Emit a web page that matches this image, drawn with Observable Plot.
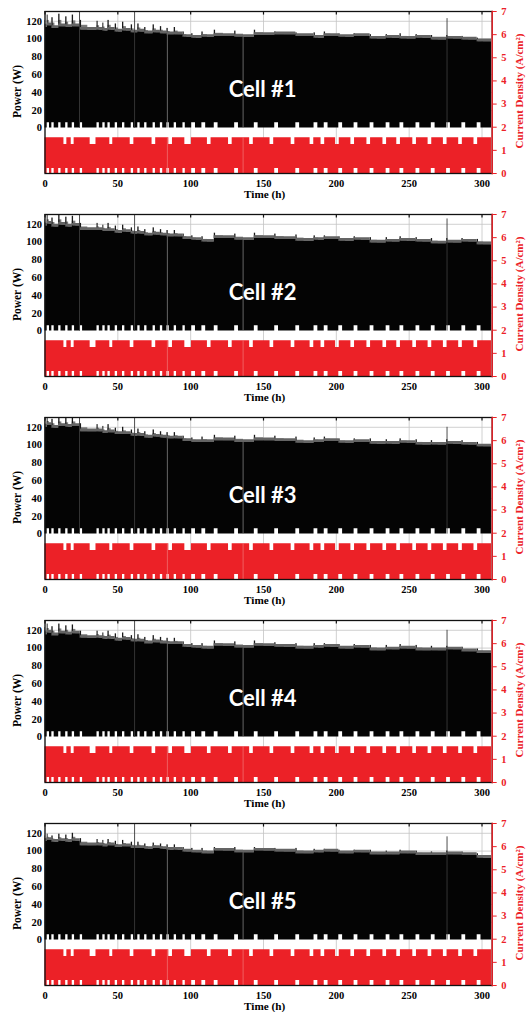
<!DOCTYPE html>
<html>
<head>
<meta charset="utf-8">
<script src="https://cdn.jsdelivr.net/npm/d3@7"></script>
<script src="https://cdn.jsdelivr.net/npm/@observablehq/plot@0.6"></script>
<style>
  html, body { margin: 0; padding: 0; background: #fff; }
  #chart svg { display: block; }
</style>
</head>
<body>
<div id="chart"></div>
<script>
// Five-cell load-cycling durability test: stack power (W, left) and
// current density (A/cm², right, red) over 307 h.

const cellNames = ["Cell #1", "Cell #2", "Cell #3", "Cell #4", "Cell #5"];
const xTicks = [0, 50, 100, 150, 200, 250, 300];
const powerTicks = [0, 20, 40, 60, 80, 100, 120];
const densityTicks = [0, 1, 2, 3, 4, 5, 6, 7];
const endHour = 306.5;

// Rest periods (current never drops to zero): start / end hours
const restStart = [1.5, 4.7, 9.4, 14.2, 18.7, 24.2, 35.7, 39.7, 43.2, 48.2, 53.2, 59.2, 63.7, 68.4, 74.2, 79.2, 83.7, 88.7, 94.7, 100.7, 107.7, 116.2, 130.2, 143.7, 157.7, 172.2, 184.7, 191.7, 201.7, 212.2, 223.2, 234.2, 243.7, 254.7, 265.2, 275.7, 286.2, 296.7];
const restEnd   = [3.1, 6.3, 11.0, 15.8, 20.3, 25.8, 37.3, 41.3, 44.8, 49.8, 54.8, 60.8, 65.3, 70.0, 75.8, 80.8, 85.3, 90.3, 96.3, 103.3, 110.3, 118.8, 132.8, 146.3, 160.3, 174.8, 187.3, 194.3, 204.3, 214.8, 225.8, 236.8, 246.3, 257.3, 267.8, 278.3, 288.8, 299.3];

// Reduced peak-current periods: start / end hours
const dipStart = [13, 18, 31, 44.5, 58.5, 73.5, 85, 96, 111.5, 126, 140.5, 154.5, 169, 182, 189.5, 199.5, 210, 221, 232, 241.5, 252.5, 263, 273.5, 284, 294.5];
const dipEnd   = [15, 20, 35, 46.5, 61, 76, 87.5, 100.5, 114, 128.5, 143, 157, 171.5, 184.5, 192, 202, 212.5, 223.5, 234.5, 244, 255, 265.5, 276, 286.5, 297];

// Current-density levels (A/cm²) and rest-period power floor (W)
const densityHigh = 1.55;
const densityDip = 1.25;
const densityRestMin = 0.22;
const powerRestMin = 6;

// Data interruptions (h)
const gapHours = [84, 136];

// Each cycling block begins at a rest period
const blockStart = [0, ...restStart];

// Sustained power plateau per block (W)
const level1 = [113,115,112,114,113,114,110,110,109,110,108,109,107,108,106,107,106,105,105,102,101,102,103,102,104,105,103,101,103,102,103,100,101,100,101,99,100,99,97];
const level2 = [118,120,117,119,117,118,113,113,112,112,110,111,109,109,107,108,107,106,106,103,102,100,104,102,104,103,101,102,103,101,102,99,100,101,100,98,99,100,97];
const level3 = [120,122,119,121,120,121,115,115,113,114,112,112,110,110,108,109,108,107,107,104,103,103,105,103,105,104,102,103,104,102,103,101,101,102,100,100,101,100,98];
const level4 = [115,117,114,116,115,116,111,111,110,110,108,109,107,107,105,106,105,104,104,101,100,99,102,100,102,101,99,100,101,99,100,97,98,99,97,97,98,96,94];
const level5 = [111,112,110,111,110,111,106,106,105,106,104,105,103,103,102,103,102,101,101,99,98,97,100,98,100,99,97,98,99,97,98,96,96,97,95,95,96,95,92];

// Recovered peak power right after each rest (W)
const peak1 = [121,127,124,128,125,127,121,120,118,121,117,119,116,117,113,116,114,112,113,108,106,108,110,109,110,108,107,107,108,106,106,105,105,106,105,104,104,103,101];
const peak2 = [126,130,127,131,128,129,121,121,119,121,118,119,116,117,114,116,114,113,113,109,107,106,110,109,110,109,108,107,107,106,106,105,105,106,105,104,104,104,103];
const peak3 = [128,131,129,131,130,131,124,123,121,123,119,120,117,118,115,117,115,114,114,110,108,109,111,110,111,110,109,108,109,107,107,107,106,107,106,105,106,105,103];
const peak4 = [123,127,124,127,125,126,119,119,117,119,116,117,114,115,112,114,112,111,111,107,105,105,108,107,108,106,105,105,105,104,104,103,103,104,103,102,102,101,99];
const peak5 = [117,119,117,119,118,120,114,113,112,113,111,112,110,110,108,109,108,107,107,104,103,103,104,104,104,103,103,102,102,101,101,101,100,101,100,99,100,99,97];

// Isolated power spikes [hour, W]
const spikes1 = [[23.7, 131], [61.5, 131], [276, 123]];
const spikes2 = [[23.7, 131], [61.5, 131], [276, 126]];
const spikes3 = [[23.7, 131], [61.5, 131], [276, 120]];
const spikes4 = [[61.5, 131], [276, 120]];
const spikes5 = [[61.5, 131], [276, 116]];

const levels = [level1, level2, level3, level4, level5];
const peaks = [peak1, peak2, peak3, peak4, peak5];
const spikes = [spikes1, spikes2, spikes3, spikes4, spikes5];

// Both y axes share one frame: power domain [-51, 131] W <-> density [0, 7] A/cm²
const powerDomain = [-51, 131];
const toPower = (cd) => powerDomain[0] + cd * (powerDomain[1] - powerDomain[0]) / 7;
const toDensity = (p) => (p - powerDomain[0]) * 7 / (powerDomain[1] - powerDomain[0]);

const RED = "#ec2127";

const inside = (t, s, e) => s.some((v, i) => t >= v && t < e[i]);
const blockOf = (t) => d3.bisectRight(blockStart, t) - 1;

const bounds = Array.from(new Set([0, ...blockStart, ...restStart, ...restEnd, ...dipStart, ...dipEnd]))
  .filter((t) => t >= 0 && t < endHour)
  .sort((a, b) => a - b);

function series(level) {
  const pts = bounds.map((t) => {
    const rest = inside(t, restStart, restEnd);
    const dip = inside(t, dipStart, dipEnd);
    return {
      t,
      pLo: rest ? powerRestMin : 0,
      pHi: level[blockOf(t)],
      cLo: rest ? densityRestMin : 0,
      cHi: dip ? densityDip : densityHigh
    };
  });
  pts.push({...pts[pts.length - 1], t: endHour});
  return pts;
}

function recoveries(level, peak) {
  return blockStart.map((t0, i) => {
    const t1 = i + 1 < blockStart.length ? blockStart[i + 1] : endHour;
    const len = t1 - t0;
    return {t0, tMid: t0 + len * 0.45, tTip: t0 + Math.min(0.9, len * 0.2), level: level[i], peak: peak[i]};
  });
}

function panel(k) {
  const level = levels[k];
  const pts = series(level);
  const rec = recoveries(level, peaks[k]);
  return Plot.plot({
    width: 528,
    height: 203,
    marginTop: 11,
    marginBottom: 30,
    marginLeft: 44.5,
    marginRight: 36.3,
    style: {fontFamily: "'Liberation Serif', 'Times New Roman', serif", fontSize: "10.5px", fontWeight: "bold", background: "#fff"},
    x: {domain: [0, 307]},
    y: {domain: powerDomain},
    marks: [
      Plot.gridX(xTicks, {stroke: "#c4c4c4", strokeOpacity: 1, strokeWidth: 0.8}),
      Plot.gridY(powerTicks.slice(1), {stroke: "#c4c4c4", strokeOpacity: 1, strokeWidth: 0.8}),
      // power envelope
      Plot.rect(rec, {x1: "t0", x2: "tMid", y1: "level", y2: (d) => (d.level + d.peak) / 2, fill: "#7a7a7a"}),
      Plot.rect(rec, {x1: "t0", x2: "tTip", y1: "level", y2: "peak", fill: "#1a1a1a"}),
      Plot.areaY(pts, {x: "t", y1: "pHi", y2: (d) => d.pHi + 3, fill: "#646464", curve: "step-after"}),
      Plot.areaY(pts, {x: "t", y1: "pLo", y2: "pHi", fill: "#040404", curve: "step-after"}),
      Plot.ruleX(spikes[k], {x: (d) => d[0], y1: 0, y2: (d) => d[1], stroke: "#3a3a3a", strokeWidth: 0.9}),
      Plot.ruleX(gapHours, {y1: 0, y2: (d) => level[blockOf(d)], stroke: "#808080", strokeWidth: 0.8}),
      // current density band
      Plot.areaY(pts, {x: "t", y1: (d) => toPower(d.cLo), y2: (d) => toPower(d.cHi), fill: RED, curve: "step-after"}),
      Plot.ruleX(gapHours, {y1: toPower(0), y2: toPower(densityHigh), stroke: "#f27a7a", strokeWidth: 0.7}),
      // frame and axes
      Plot.frame({stroke: "#111", strokeWidth: 1.3}),
      Plot.frame({anchor: "right", stroke: RED, strokeWidth: 1.4}),
      Plot.ruleX(xTicks, {y1: powerDomain[1], y2: powerDomain[1] - 4, stroke: "#111", strokeWidth: 1.2}),
      Plot.axisX(xTicks, {anchor: "bottom", tickSize: 0, tickPadding: 6, label: null}),
      Plot.axisY(powerTicks, {anchor: "left", tickSize: 0, tickPadding: 3, label: null}),
      Plot.axisY(densityTicks.map(toPower), {anchor: "right", tickSize: 4, tickPadding: 5, color: RED, label: null,
        tickFormat: (d) => String(Math.round(toDensity(d)))}),
      Plot.text(["Time (h)"], {text: (d) => d, frameAnchor: "bottom", textAnchor: "middle", lineAnchor: "middle", dy: 21, dx: -4, fontSize: 11.2}),
      Plot.text(["Power (W)"], {text: (d) => d, frameAnchor: "left", textAnchor: "middle", lineAnchor: "middle", rotate: -90, dx: -27.5, dy: -1, fontSize: 11.5}),
      Plot.text(["Current Density (A/cm²)"], {text: (d) => d, frameAnchor: "right", textAnchor: "middle", lineAnchor: "middle", rotate: -90, dx: 27.5, dy: -1.5, fontSize: 11, fill: RED}),
      Plot.text([cellNames[k]], {text: (d) => d, frameAnchor: "middle", dx: -6, dy: -3, fill: "#fff",
        fontFamily: "Lato, 'Open Sans', sans-serif", fontWeight: "bold", fontSize: 22})
    ]
  });
}

const root = document.getElementById("chart");
cellNames.forEach((_, k) => root.appendChild(panel(k)));
</script>
</body>
</html>
